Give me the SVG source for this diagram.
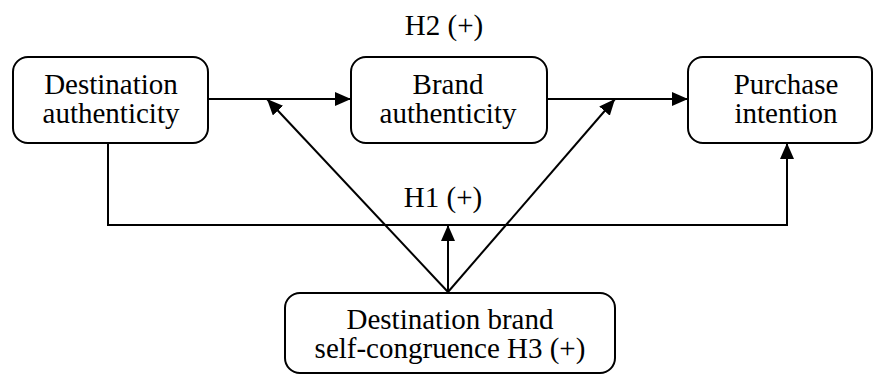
<svg xmlns="http://www.w3.org/2000/svg" width="873" height="374" viewBox="0 0 873 374">
  <style>
    .box { fill: #ffffff; stroke: #000000; stroke-width: 2; }
    .lbl { font-family: "Liberation Serif", "Times New Roman", serif; font-size: 29px; fill: #000000; text-anchor: middle; }
    .wire { fill: none; stroke: #000000; stroke-width: 2; }
  </style>
  <defs>
    <marker id="arrow" markerUnits="userSpaceOnUse" markerWidth="16" markerHeight="14" refX="16" refY="7" orient="auto">
      <path d="M0,0 L16,7 L0,14 z" fill="#000000"/>
    </marker>
  </defs>
  <rect width="873" height="374" fill="#ffffff"/>

  <g id="connectors">
    <path class="wire" d="M208,99 H351" marker-end="url(#arrow)"/>
    <path class="wire" d="M547,99 H688" marker-end="url(#arrow)"/>
    <path class="wire" d="M108,143 V225 H787 V143" marker-end="url(#arrow)"/>
    <path class="wire" d="M448,292 V225" marker-end="url(#arrow)"/>
    <path class="wire" d="M448,292 L267,99" marker-end="url(#arrow)"/>
    <path class="wire" d="M448,292 L615,99" marker-end="url(#arrow)"/>
    <text class="lbl" x="444" y="35">H2 (+)</text>
    <text class="lbl" x="443" y="207">H1 (+)</text>
  </g>

  <g id="destination-authenticity">
    <rect class="box" x="13" y="57" width="195" height="86" rx="15"/>
    <text class="lbl" x="111" y="94">Destination</text>
    <text class="lbl" x="111" y="123">authenticity</text>
  </g>

  <g id="brand-authenticity">
    <rect class="box" x="351" y="57" width="196" height="86" rx="15"/>
    <text class="lbl" x="448" y="94">Brand</text>
    <text class="lbl" x="448" y="123">authenticity</text>
  </g>

  <g id="purchase-intention">
    <rect class="box" x="688" y="57" width="184" height="86" rx="15"/>
    <text class="lbl" x="786" y="94">Purchase</text>
    <text class="lbl" x="786" y="123">intention</text>
  </g>

  <g id="self-congruence">
    <rect class="box" x="285" y="293" width="330" height="80" rx="15"/>
    <text class="lbl" x="450" y="329">Destination brand</text>
    <text class="lbl" x="450" y="358">self-congruence H3 (+)</text>
  </g>
</svg>
